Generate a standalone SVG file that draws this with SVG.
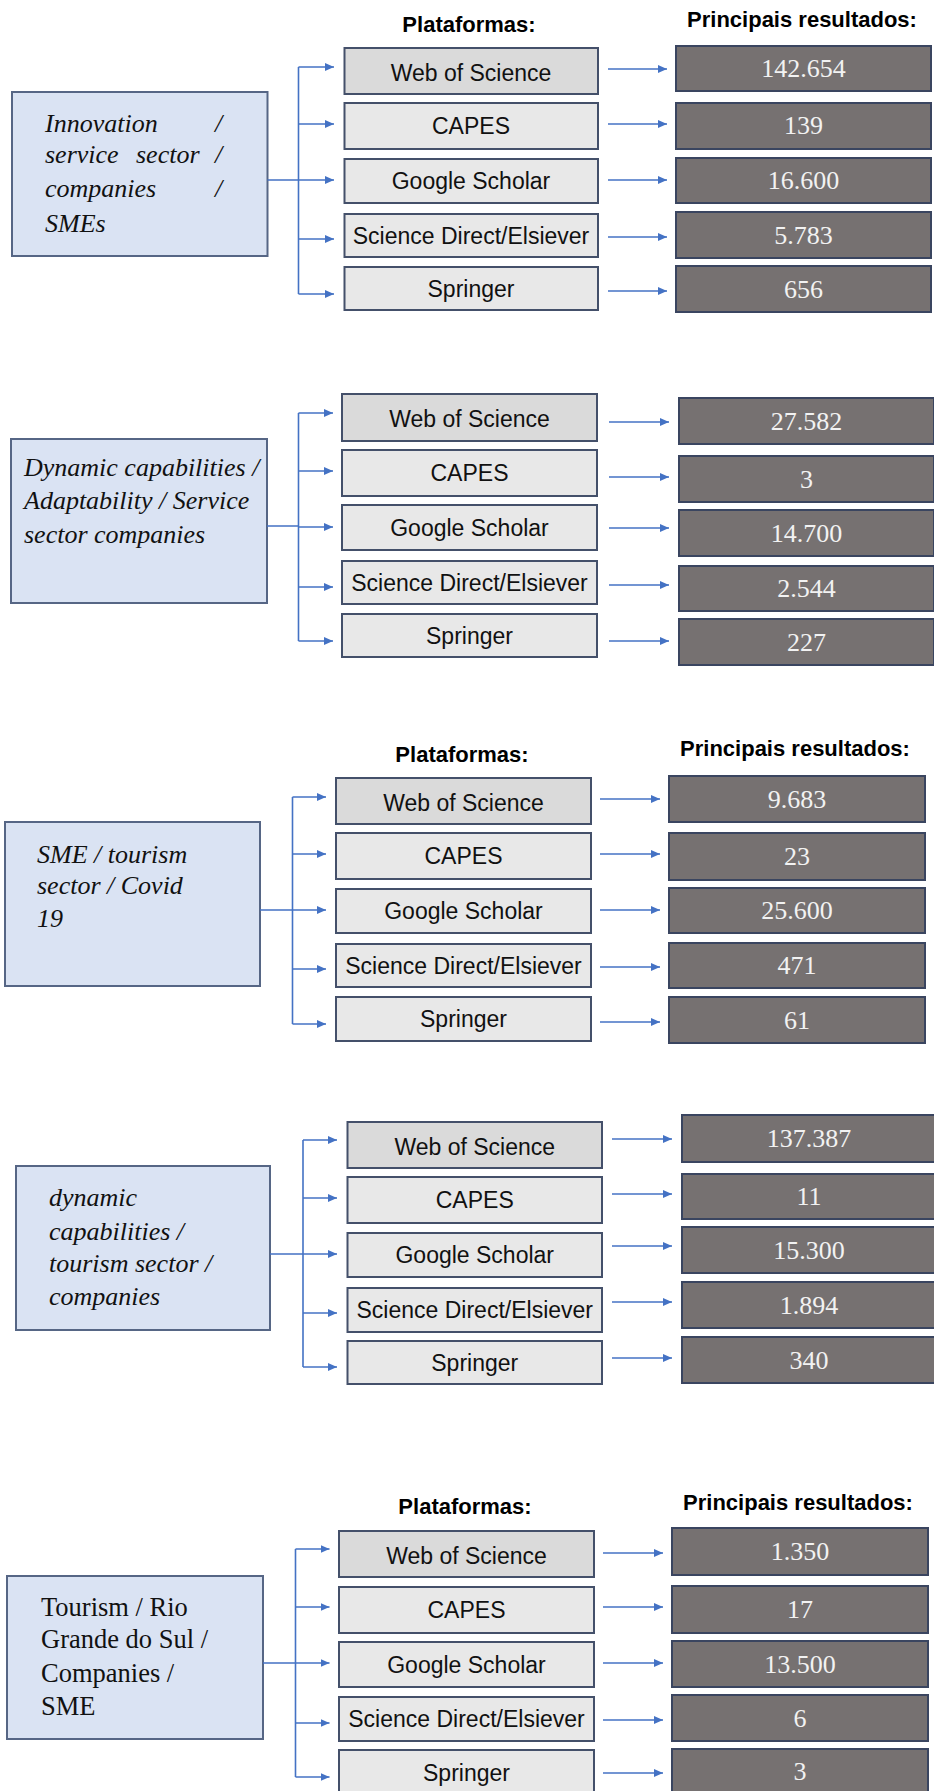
<svg xmlns="http://www.w3.org/2000/svg" width="934" height="1791" viewBox="0 0 934 1791">
<defs>
<marker id="ah" markerUnits="userSpaceOnUse" markerWidth="10" markerHeight="9" refX="9" refY="4.5" orient="auto"><path d="M0,0.5 L9,4.5 L0,8.5 z" fill="#4472c4"/></marker>
<style>
.bg{fill:#ffffff}
.lb{fill:#dae3f3;stroke:#566685;stroke-width:2}
.pw{fill:#dadada;stroke:#44506a;stroke-width:2}
.pb{fill:#e8e8e8;stroke:#44506a;stroke-width:2}
.rb{fill:#767171;stroke:#3a4560;stroke-width:2}
.ln{fill:none;stroke:#4472c4;stroke-width:1.6}
.ar{fill:none;stroke:#4472c4;stroke-width:1.6;marker-end:url(#ah)}
.hd{font-family:"Liberation Sans",Arial,sans-serif;font-weight:bold;font-size:22px;fill:#000;text-anchor:middle}
.pt{font-family:"Liberation Sans",Arial,sans-serif;font-size:23px;fill:#111;text-anchor:middle}
.rt{font-family:"Liberation Serif","Times New Roman",serif;font-size:26px;fill:#f2f2f2;text-anchor:middle}
.li{font-family:"Liberation Serif","Times New Roman",serif;font-size:26px;font-style:italic;fill:#111}
.ls{font-family:"Liberation Serif","Times New Roman",serif;font-size:26.5px;fill:#111}
</style>
</defs>
<rect class="bg" x="0" y="0" width="934" height="1791"/>

<!-- ===== Section 1 ===== -->
<g id="s1-headers">
<text class="hd" x="469" y="32">Plataformas:</text>
<text class="hd" x="802" y="27">Principais resultados:</text>
</g>
<g id="s1-topic"><rect class="lb" x="12" y="92" width="255.5" height="164"/>
<text class="li" x="45" y="132">Innovation</text><text class="li" x="215" y="132">/</text>
<text class="li" x="45" y="163">service</text><text class="li" x="136" y="163">sector</text><text class="li" x="215" y="163">/</text>
<text class="li" x="45" y="197">companies</text><text class="li" x="215" y="197">/</text>
<text class="li" x="45" y="232">SMEs</text></g>
<g id="s1-wos"><rect class="pw" x="344.5" y="48" width="253.5" height="46"/><text class="pt" x="471" y="81">Web of Science</text></g>
<g id="s1-capes"><rect class="pb" x="344.5" y="103" width="253.5" height="46"/><text class="pt" x="471" y="134">CAPES</text></g>
<g id="s1-gs"><rect class="pb" x="344.5" y="159" width="253.5" height="44"/><text class="pt" x="471" y="189">Google Scholar</text></g>
<g id="s1-sd"><rect class="pb" x="344.5" y="214" width="253.5" height="43"/><text class="pt" x="471" y="244">Science Direct/Elsiever</text></g>
<g id="s1-spr"><rect class="pb" x="344.5" y="267" width="253.5" height="43"/><text class="pt" x="471" y="297">Springer</text></g>
<g id="s1-r1"><rect class="rb" x="676" y="46" width="255" height="45"/><text class="rt" x="803.5" y="77">142.654</text></g>
<g id="s1-r2"><rect class="rb" x="676" y="103" width="255" height="46"/><text class="rt" x="803.5" y="134">139</text></g>
<g id="s1-r3"><rect class="rb" x="676" y="158" width="255" height="45"/><text class="rt" x="803.5" y="189">16.600</text></g>
<g id="s1-r4"><rect class="rb" x="676" y="212" width="255" height="46"/><text class="rt" x="803.5" y="243.5">5.783</text></g>
<g id="s1-r5"><rect class="rb" x="676" y="266" width="255" height="46"/><text class="rt" x="803.5" y="297.5">656</text></g>
<g id="s1-connectors">
<path class="ln" d="M267.5,180 H298.5 M298.5,67 V294"/>
<path class="ar" d="M298.5,67 H334"/><path class="ar" d="M298.5,124 H334"/><path class="ar" d="M298.5,180 H334"/><path class="ar" d="M298.5,239 H334"/><path class="ar" d="M298.5,294 H334"/>
<path class="ar" d="M608,69 H667"/><path class="ar" d="M608,124 H667"/><path class="ar" d="M608,180 H667"/><path class="ar" d="M608,237 H667"/><path class="ar" d="M608,291 H667"/>
</g>

<!-- ===== Section 2 ===== -->
<g id="s2-topic"><rect class="lb" x="11" y="439" width="256" height="164"/>
<text class="li" x="24" y="476">Dynamic capabilities /</text>
<text class="li" x="24" y="509">Adaptability / Service</text>
<text class="li" x="24" y="543">sector companies</text></g>
<g id="s2-wos"><rect class="pw" x="342" y="394" width="255" height="47"/><text class="pt" x="469.5" y="427">Web of Science</text></g>
<g id="s2-capes"><rect class="pb" x="342" y="450" width="255" height="46"/><text class="pt" x="469.5" y="481">CAPES</text></g>
<g id="s2-gs"><rect class="pb" x="342" y="505" width="255" height="45"/><text class="pt" x="469.5" y="536">Google Scholar</text></g>
<g id="s2-sd"><rect class="pb" x="342" y="561" width="255" height="43"/><text class="pt" x="469.5" y="591">Science Direct/Elsiever</text></g>
<g id="s2-spr"><rect class="pb" x="342" y="614" width="255" height="43"/><text class="pt" x="469.5" y="644">Springer</text></g>
<g id="s2-r1"><rect class="rb" x="679" y="398" width="255" height="46"/><text class="rt" x="806.5" y="429.5">27.582</text></g>
<g id="s2-r2"><rect class="rb" x="679" y="456" width="255" height="46"/><text class="rt" x="806.5" y="487.5">3</text></g>
<g id="s2-r3"><rect class="rb" x="679" y="510" width="255" height="46"/><text class="rt" x="806.5" y="541.5">14.700</text></g>
<g id="s2-r4"><rect class="rb" x="679" y="566" width="255" height="45"/><text class="rt" x="806.5" y="597">2.544</text></g>
<g id="s2-r5"><rect class="rb" x="679" y="619" width="255" height="46"/><text class="rt" x="806.5" y="650.5">227</text></g>
<g id="s2-connectors">
<path class="ln" d="M267,526 H298.5 M298.5,413 V641"/>
<path class="ar" d="M298.5,413 H333"/><path class="ar" d="M298.5,471 H333"/><path class="ar" d="M298.5,527 H333"/><path class="ar" d="M298.5,587 H333"/><path class="ar" d="M298.5,641 H333"/>
<path class="ar" d="M609,422 H669"/><path class="ar" d="M609,477 H669"/><path class="ar" d="M609,528 H669"/><path class="ar" d="M609,585 H669"/><path class="ar" d="M609,641 H669"/>
</g>

<!-- ===== Section 3 ===== -->
<g id="s3-headers">
<text class="hd" x="462" y="762">Plataformas:</text>
<text class="hd" x="795" y="756">Principais resultados:</text>
</g>
<g id="s3-topic"><rect class="lb" x="5" y="822" width="255" height="164"/>
<text class="li" x="37" y="863">SME / tourism</text>
<text class="li" x="37" y="894">sector / Covid</text>
<text class="li" x="37" y="927">19</text></g>
<g id="s3-wos"><rect class="pw" x="336" y="778" width="255" height="46"/><text class="pt" x="463.5" y="811">Web of Science</text></g>
<g id="s3-capes"><rect class="pb" x="336" y="833" width="255" height="46"/><text class="pt" x="463.5" y="864">CAPES</text></g>
<g id="s3-gs"><rect class="pb" x="336" y="889" width="255" height="44"/><text class="pt" x="463.5" y="919">Google Scholar</text></g>
<g id="s3-sd"><rect class="pb" x="336" y="944" width="255" height="43"/><text class="pt" x="463.5" y="974">Science Direct/Elsiever</text></g>
<g id="s3-spr"><rect class="pb" x="336" y="997" width="255" height="44"/><text class="pt" x="463.5" y="1027">Springer</text></g>
<g id="s3-r1"><rect class="rb" x="669" y="776" width="256" height="46"/><text class="rt" x="797" y="807.5">9.683</text></g>
<g id="s3-r2"><rect class="rb" x="669" y="833" width="256" height="47"/><text class="rt" x="797" y="865">23</text></g>
<g id="s3-r3"><rect class="rb" x="669" y="888" width="256" height="45"/><text class="rt" x="797" y="919">25.600</text></g>
<g id="s3-r4"><rect class="rb" x="669" y="943" width="256" height="45"/><text class="rt" x="797" y="974">471</text></g>
<g id="s3-r5"><rect class="rb" x="669" y="997" width="256" height="46"/><text class="rt" x="797" y="1028.5">61</text></g>
<g id="s3-connectors">
<path class="ln" d="M260,910 H292.5 M292.5,797 V1024"/>
<path class="ar" d="M292.5,797 H326"/><path class="ar" d="M292.5,854 H326"/><path class="ar" d="M292.5,910 H326"/><path class="ar" d="M292.5,969 H326"/><path class="ar" d="M292.5,1024 H326"/>
<path class="ar" d="M600,799 H660"/><path class="ar" d="M600,854 H660"/><path class="ar" d="M600,910 H660"/><path class="ar" d="M600,967 H660"/><path class="ar" d="M600,1022 H660"/>
</g>

<!-- ===== Section 4 ===== -->
<g id="s4-topic"><rect class="lb" x="16" y="1166" width="254" height="164"/>
<text class="li" x="49" y="1206">dynamic</text>
<text class="li" x="49" y="1240">capabilities /</text>
<text class="li" x="49" y="1272">tourism sector /</text>
<text class="li" x="49" y="1305">companies</text></g>
<g id="s4-wos"><rect class="pw" x="347.5" y="1122" width="254.5" height="46"/><text class="pt" x="474.75" y="1155">Web of Science</text></g>
<g id="s4-capes"><rect class="pb" x="347.5" y="1177" width="254.5" height="46"/><text class="pt" x="474.75" y="1208">CAPES</text></g>
<g id="s4-gs"><rect class="pb" x="347.5" y="1233" width="254.5" height="44"/><text class="pt" x="474.75" y="1263">Google Scholar</text></g>
<g id="s4-sd"><rect class="pb" x="347.5" y="1288" width="254.5" height="44"/><text class="pt" x="474.75" y="1318">Science Direct/Elsiever</text></g>
<g id="s4-spr"><rect class="pb" x="347.5" y="1341" width="254.5" height="43"/><text class="pt" x="474.75" y="1371">Springer</text></g>
<g id="s4-r1"><rect class="rb" x="682" y="1115" width="254" height="47"/><text class="rt" x="809" y="1147">137.387</text></g>
<g id="s4-r2"><rect class="rb" x="682" y="1174" width="254" height="45"/><text class="rt" x="809" y="1205">11</text></g>
<g id="s4-r3"><rect class="rb" x="682" y="1227" width="254" height="46"/><text class="rt" x="809" y="1258.5">15.300</text></g>
<g id="s4-r4"><rect class="rb" x="682" y="1282" width="254" height="46"/><text class="rt" x="809" y="1313.5">1.894</text></g>
<g id="s4-r5"><rect class="rb" x="682" y="1337" width="254" height="46"/><text class="rt" x="809" y="1368.5">340</text></g>
<g id="s4-connectors">
<path class="ln" d="M270,1254 H303 M303,1140 V1367"/>
<path class="ar" d="M303,1140 H337"/><path class="ar" d="M303,1198 H337"/><path class="ar" d="M303,1254 H337"/><path class="ar" d="M303,1313 H337"/><path class="ar" d="M303,1367 H337"/>
<path class="ar" d="M612,1139 H672"/><path class="ar" d="M612,1194 H672"/><path class="ar" d="M612,1246 H672"/><path class="ar" d="M612,1302 H672"/><path class="ar" d="M612,1358 H672"/>
</g>

<!-- ===== Section 5 ===== -->
<g id="s5-headers">
<text class="hd" x="465" y="1514">Plataformas:</text>
<text class="hd" x="798" y="1510">Principais resultados:</text>
</g>
<g id="s5-topic"><rect class="lb" x="7" y="1576" width="256" height="163"/>
<text class="ls" x="41" y="1616">Tourism / Rio</text>
<text class="ls" x="41" y="1648">Grande do Sul /</text>
<text class="ls" x="41" y="1682">Companies /</text>
<text class="ls" x="41" y="1715">SME</text></g>
<g id="s5-wos"><rect class="pw" x="339" y="1531" width="255" height="46"/><text class="pt" x="466.5" y="1564">Web of Science</text></g>
<g id="s5-capes"><rect class="pb" x="339" y="1587" width="255" height="46"/><text class="pt" x="466.5" y="1618">CAPES</text></g>
<g id="s5-gs"><rect class="pb" x="339" y="1642" width="255" height="45"/><text class="pt" x="466.5" y="1673">Google Scholar</text></g>
<g id="s5-sd"><rect class="pb" x="339" y="1697" width="255" height="44"/><text class="pt" x="466.5" y="1727">Science Direct/Elsiever</text></g>
<g id="s5-spr"><rect class="pb" x="339" y="1750" width="255" height="46"/><text class="pt" x="466.5" y="1781">Springer</text></g>
<g id="s5-r1"><rect class="rb" x="672" y="1528" width="256" height="47"/><text class="rt" x="800" y="1560">1.350</text></g>
<g id="s5-r2"><rect class="rb" x="672" y="1586" width="256" height="47"/><text class="rt" x="800" y="1618">17</text></g>
<g id="s5-r3"><rect class="rb" x="672" y="1641" width="256" height="46"/><text class="rt" x="800" y="1672.5">13.500</text></g>
<g id="s5-r4"><rect class="rb" x="672" y="1695" width="256" height="46"/><text class="rt" x="800" y="1726.5">6</text></g>
<g id="s5-r5"><rect class="rb" x="672" y="1749" width="256" height="47"/><text class="rt" x="800" y="1780">3</text></g>
<g id="s5-connectors">
<path class="ln" d="M263,1663 H295.5 M295.5,1549 V1777"/>
<path class="ar" d="M295.5,1549 H329.5"/><path class="ar" d="M295.5,1607 H329.5"/><path class="ar" d="M295.5,1663 H329.5"/><path class="ar" d="M295.5,1723 H329.5"/><path class="ar" d="M295.5,1777 H329.5"/>
<path class="ar" d="M603,1553 H663"/><path class="ar" d="M603,1607 H663"/><path class="ar" d="M603,1663 H663"/><path class="ar" d="M603,1720 H663"/><path class="ar" d="M603,1773 H663"/>
</g>
</svg>
